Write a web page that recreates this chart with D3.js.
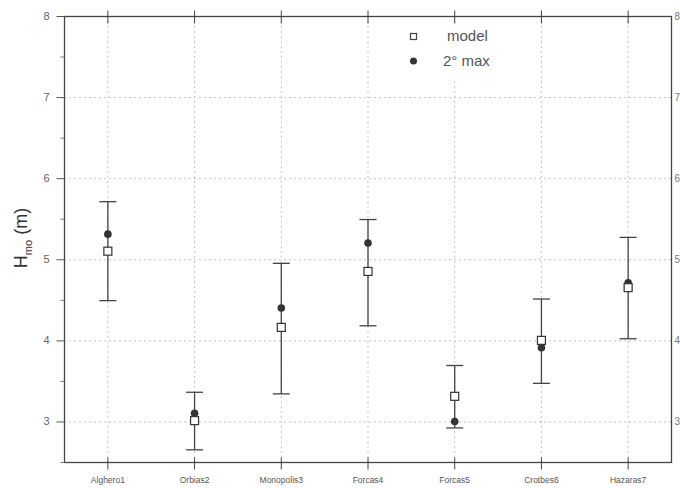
<!DOCTYPE html>
<html>
<head>
<meta charset="utf-8">
<script src="https://cdn.jsdelivr.net/npm/d3@7"></script>
<style>
  body { margin: 0; background: #fff; }
  text { font-family: "Liberation Sans", Arial, sans-serif; }
</style>
</head>
<body>
<svg id="chart" width="680" height="488"></svg>
<script>
// stations along the coast
const stations = ['Alghero1', 'Orbias2', 'Monopolis3', 'Forcas4', 'Forcas5', 'Crotbes6', 'Hazaras7']
const model = [5.10, 3.01, 4.16, 4.85, 3.31, 4.00, 4.65]
const maxVals = [5.31, 3.10, 4.40, 5.20, 3.00, 3.91, 4.71]
const errLow = [4.49, 2.65, 3.34, 4.18, 2.92, 3.47, 4.02]
const errHigh = [5.71, 3.36, 4.95, 5.49, 3.69, 4.51, 5.27]
const yTicks = [3, 4, 5, 6, 7, 8]
const yMinor = [2.5, 3.5, 4.5, 5.5, 6.5, 7.5]

const pL = 64, pR = 671, pT = 16, pB = 462
const svg = d3.select('#chart')

const x = d3.scalePoint().domain(stations).range([pL, pR]).padding(0.5)
const y = d3.scaleLinear().domain([2.5, 8]).range([pB, pT])

// grid
const grid = svg.append('g').attr('stroke', '#c4c4c4').attr('stroke-width', 1).attr('stroke-dasharray', '2,3')
grid.selectAll('line.h').data(yTicks.filter(d => d < 8)).enter().append('line')
  .attr('x1', pL).attr('x2', pR)
  .attr('y1', d => y(d) + 0.5).attr('y2', d => y(d) + 0.5)
grid.selectAll('line.v').data(stations).enter().append('line')
  .attr('x1', d => x(d) + 0.5).attr('x2', d => x(d) + 0.5)
  .attr('y1', pT).attr('y2', pB)

// legend box hides grid behind it
svg.append('rect').attr('x', 392).attr('y', 24).attr('width', 116).attr('height', 56).attr('fill', '#fff')

// frame
svg.append('rect').attr('x', pL + 0.5).attr('y', pT + 0.5)
  .attr('width', pR - pL).attr('height', pB - pT)
  .attr('fill', 'none').attr('stroke', '#444').attr('stroke-width', 1.3)

// left axis
const yAxis = svg.append('g').attr('transform', `translate(${pL + 0.5},0)`)
  .call(d3.axisLeft(y).tickValues(yTicks).tickSize(8).tickPadding(7).tickFormat(d3.format('d')))
yAxis.select('.domain').remove()
yAxis.selectAll('line').attr('stroke', '#555')
yAxis.selectAll('text').attr('font-size', 11).attr('fill', '#666')
svg.append('g').attr('transform', `translate(${pL + 0.5},0)`)
  .call(d3.axisLeft(y).tickValues(yMinor).tickSize(4).tickFormat(''))
  .call(g => g.select('.domain').remove())
  .selectAll('line').attr('stroke', '#777')

// right axis labels only
svg.append('g').attr('transform', `translate(${pR + 0.5},0)`)
  .call(d3.axisRight(y).tickValues(yTicks).tickSize(0).tickPadding(3).tickFormat(d3.format('d')))
  .call(g => g.select('.domain').remove())
  .selectAll('text').attr('font-size', 10).attr('fill', '#777')

// bottom axis, ticks crossing the frame
const xAxis = svg.append('g').attr('transform', `translate(0,${pB + 0.5})`)
  .call(d3.axisBottom(x).tickSizeInner(7).tickSizeOuter(0).tickPadding(7))
xAxis.select('.domain').remove()
xAxis.selectAll('line').attr('y1', -5).attr('stroke', '#444')
xAxis.selectAll('text').attr('font-size', 8.5).attr('fill', '#555')

// top axis ticks
svg.append('g').attr('transform', `translate(0,${pT + 0.5})`)
  .call(d3.axisTop(x).tickSizeInner(6).tickSizeOuter(0).tickFormat(''))
  .call(g => g.select('.domain').remove())
  .selectAll('line').attr('y2', 7).attr('y1', -6).attr('stroke', '#444')

// y title
const title = svg.append('text')
  .attr('transform', 'translate(27,238) rotate(-90)')
  .attr('text-anchor', 'middle').attr('font-size', 18).attr('fill', '#333')
title.append('tspan').text('H')
title.append('tspan').text('mo').attr('font-size', 11).attr('dy', 5)
title.append('tspan').text(' (m)').attr('dy', -5)

// error bars
const idx = d3.range(stations.length)
const bars = svg.append('g').attr('stroke', '#444').attr('stroke-width', 1.3)
bars.selectAll('line.stem').data(idx).enter().append('line')
  .attr('x1', i => x(stations[i]) + 0.5).attr('x2', i => x(stations[i]) + 0.5)
  .attr('y1', i => y(errHigh[i])).attr('y2', i => y(errLow[i]))
bars.selectAll('line.hi').data(idx).enter().append('line')
  .attr('x1', i => x(stations[i]) - 8).attr('x2', i => x(stations[i]) + 9)
  .attr('y1', i => y(errHigh[i])).attr('y2', i => y(errHigh[i]))
bars.selectAll('line.lo').data(idx).enter().append('line')
  .attr('x1', i => x(stations[i]) - 8).attr('x2', i => x(stations[i]) + 9)
  .attr('y1', i => y(errLow[i])).attr('y2', i => y(errLow[i]))

// 2nd max dots
svg.append('g').selectAll('circle').data(idx).enter().append('circle')
  .attr('cx', i => x(stations[i]) + 0.5).attr('cy', i => y(maxVals[i]))
  .attr('r', 3.8).attr('fill', '#333')

// model squares
svg.append('g').selectAll('rect').data(idx).enter().append('rect')
  .attr('x', i => x(stations[i]) - 3.5).attr('y', i => y(model[i]) - 4)
  .attr('width', 8).attr('height', 8)
  .attr('fill', '#fff').attr('stroke', '#333').attr('stroke-width', 1.2)

// legend
const legend = svg.append('g')
legend.append('rect').attr('x', 410.5).attr('y', 33.5).attr('width', 6).attr('height', 6)
  .attr('fill', '#fff').attr('stroke', '#444').attr('stroke-width', 1.2)
legend.append('circle').attr('cx', 413.5).attr('cy', 61).attr('r', 3.5).attr('fill', '#333')
legend.append('text').attr('x', 447).attr('y', 41).attr('font-size', 15).attr('fill', '#555').text('model')
legend.append('text').attr('x', 443).attr('y', 66).attr('font-size', 15).attr('fill', '#555').text('2° max')
</script>
</body>
</html>
